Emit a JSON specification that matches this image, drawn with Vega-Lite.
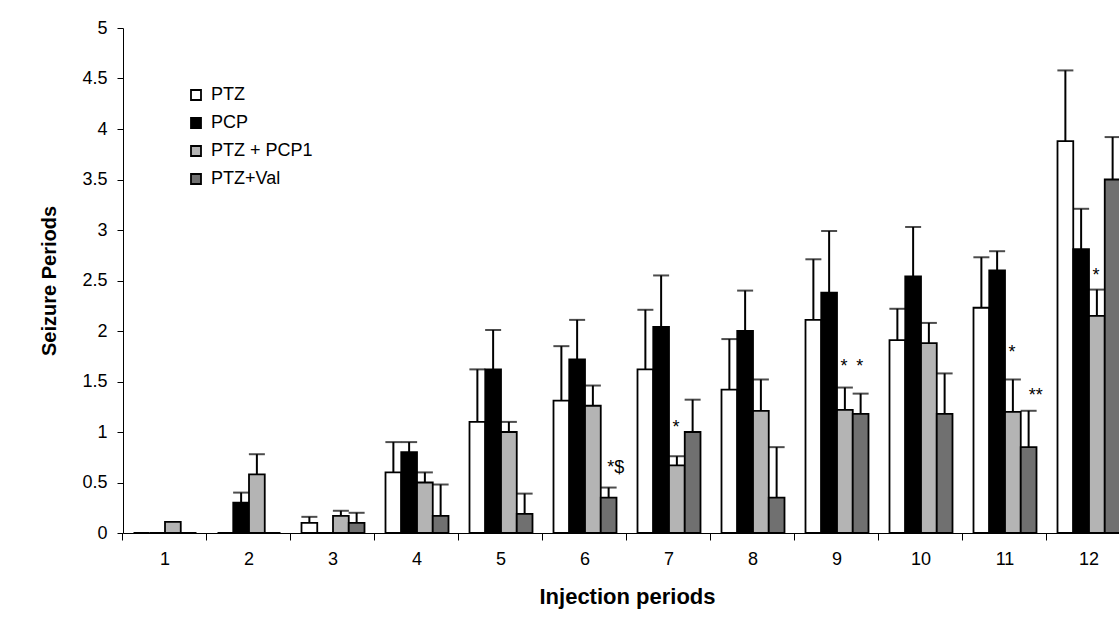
{
  "$schema": "https://vega.github.io/schema/vega-lite/v6.json",
  "width": 1008,
  "height": 505,
  "autosize": "none",
  "padding": {"left": 123, "top": 28, "right": 0, "bottom": 104},
  "background": "white",
  "config": {
    "view": {"stroke": null},
    "font": "Liberation Sans",
    "axis": {"grid": false, "domainColor": "black", "tickColor": "black", "labelColor": "black", "titleColor": "black", "labelFont": "Liberation Sans", "titleFont": "Liberation Sans"}
  },
  "datasets": {
    "bars": [
      {"group": 1, "series": "PTZ", "value": 0, "upper": null},
      {"group": 1, "series": "PCP", "value": 0, "upper": null},
      {"group": 1, "series": "PTZ + PCP1", "value": 0.11, "upper": null},
      {"group": 1, "series": "PTZ+Val", "value": 0, "upper": null},
      {"group": 2, "series": "PTZ", "value": 0, "upper": null},
      {"group": 2, "series": "PCP", "value": 0.3, "upper": 0.4},
      {"group": 2, "series": "PTZ + PCP1", "value": 0.58, "upper": 0.78},
      {"group": 2, "series": "PTZ+Val", "value": 0, "upper": null},
      {"group": 3, "series": "PTZ", "value": 0.1, "upper": 0.16},
      {"group": 3, "series": "PCP", "value": 0, "upper": null},
      {"group": 3, "series": "PTZ + PCP1", "value": 0.17, "upper": 0.22},
      {"group": 3, "series": "PTZ+Val", "value": 0.1, "upper": 0.2},
      {"group": 4, "series": "PTZ", "value": 0.6, "upper": 0.9},
      {"group": 4, "series": "PCP", "value": 0.8, "upper": 0.9},
      {"group": 4, "series": "PTZ + PCP1", "value": 0.5, "upper": 0.6},
      {"group": 4, "series": "PTZ+Val", "value": 0.17, "upper": 0.48},
      {"group": 5, "series": "PTZ", "value": 1.1, "upper": 1.62},
      {"group": 5, "series": "PCP", "value": 1.62, "upper": 2.01},
      {"group": 5, "series": "PTZ + PCP1", "value": 1.0, "upper": 1.1},
      {"group": 5, "series": "PTZ+Val", "value": 0.19, "upper": 0.39},
      {"group": 6, "series": "PTZ", "value": 1.31, "upper": 1.85},
      {"group": 6, "series": "PCP", "value": 1.72, "upper": 2.11},
      {"group": 6, "series": "PTZ + PCP1", "value": 1.26, "upper": 1.46},
      {"group": 6, "series": "PTZ+Val", "value": 0.35, "upper": 0.45},
      {"group": 7, "series": "PTZ", "value": 1.62, "upper": 2.21},
      {"group": 7, "series": "PCP", "value": 2.04, "upper": 2.55},
      {"group": 7, "series": "PTZ + PCP1", "value": 0.67, "upper": 0.76},
      {"group": 7, "series": "PTZ+Val", "value": 1.0, "upper": 1.32},
      {"group": 8, "series": "PTZ", "value": 1.42, "upper": 1.92},
      {"group": 8, "series": "PCP", "value": 2.0, "upper": 2.4},
      {"group": 8, "series": "PTZ + PCP1", "value": 1.21, "upper": 1.52},
      {"group": 8, "series": "PTZ+Val", "value": 0.35, "upper": 0.85},
      {"group": 9, "series": "PTZ", "value": 2.11, "upper": 2.71},
      {"group": 9, "series": "PCP", "value": 2.38, "upper": 2.99},
      {"group": 9, "series": "PTZ + PCP1", "value": 1.22, "upper": 1.44},
      {"group": 9, "series": "PTZ+Val", "value": 1.18, "upper": 1.38},
      {"group": 10, "series": "PTZ", "value": 1.91, "upper": 2.22},
      {"group": 10, "series": "PCP", "value": 2.54, "upper": 3.03},
      {"group": 10, "series": "PTZ + PCP1", "value": 1.88, "upper": 2.08},
      {"group": 10, "series": "PTZ+Val", "value": 1.18, "upper": 1.58},
      {"group": 11, "series": "PTZ", "value": 2.23, "upper": 2.73},
      {"group": 11, "series": "PCP", "value": 2.6, "upper": 2.79},
      {"group": 11, "series": "PTZ + PCP1", "value": 1.2, "upper": 1.52},
      {"group": 11, "series": "PTZ+Val", "value": 0.85, "upper": 1.21},
      {"group": 12, "series": "PTZ", "value": 3.88, "upper": 4.58},
      {"group": 12, "series": "PCP", "value": 2.81, "upper": 3.21},
      {"group": 12, "series": "PTZ + PCP1", "value": 2.15, "upper": 2.41},
      {"group": 12, "series": "PTZ+Val", "value": 3.5, "upper": 3.92}
    ],
    "notes": [
      {"group": 6, "series": "PTZ+Val", "pos": 0.64, "label": "*$", "shift": "right"},
      {"group": 7, "series": "PTZ + PCP1", "pos": 1.04, "label": "*", "shift": "none"},
      {"group": 9, "series": "PTZ + PCP1", "pos": 1.64, "label": "*", "shift": "none"},
      {"group": 9, "series": "PTZ+Val", "pos": 1.64, "label": "*", "shift": "none"},
      {"group": 11, "series": "PTZ + PCP1", "pos": 1.78, "label": "*", "shift": "none"},
      {"group": 11, "series": "PTZ+Val", "pos": 1.36, "label": "**", "shift": "right"},
      {"group": 12, "series": "PTZ + PCP1", "pos": 2.54, "label": "*", "shift": "none"}
    ]
  },
  "layer": [
    {
      "data": {"name": "bars"},
      "mark": {"type": "bar", "stroke": "black", "strokeWidth": 1.8},
      "encoding": {
        "x": {
          "field": "group", "type": "ordinal",
          "scale": {"paddingInner": 0.25, "paddingOuter": 0.125},
          "axis": {
            "title": "Injection periods", "titleFontSize": 22, "titleFontWeight": "bold", "titlePadding": 18,
            "labelFontSize": 18, "labelAngle": 0, "labelPadding": 10, "bandPosition": -0.16667, "tickSize": 7
          }
        },
        "xOffset": {"field": "series", "type": "nominal", "scale": {"domain": ["PTZ", "PCP", "PTZ + PCP1", "PTZ+Val"], "paddingInner": 0, "paddingOuter": 0}},
        "y": {
          "field": "value", "type": "quantitative",
          "scale": {"domain": [0, 5]},
          "axis": {
            "title": "Seizure Periods", "titleFontSize": 20, "titleFontWeight": "bold", "titlePadding": 22,
            "labelFontSize": 18, "labelPadding": 10, "tickSize": 6, "format": "~g",
            "values": [0, 0.5, 1, 1.5, 2, 2.5, 3, 3.5, 4, 4.5, 5]
          }
        },
        "fill": {
          "field": "series", "type": "nominal",
          "scale": {"domain": ["PTZ", "PCP", "PTZ + PCP1", "PTZ+Val"], "range": ["#ffffff", "#000000", "#b4b4b4", "#707070"]},
          "legend": {
            "title": null, "orient": "none", "legendX": 64, "legendY": 58, "padding": 0,
            "symbolType": "square", "symbolSize": 100, "symbolStrokeColor": "black", "symbolStrokeWidth": 1.8,
            "labelFontSize": 18, "labelColor": "black", "labelFont": "Liberation Sans", "rowPadding": 10, "labelOffset": 6
          }
        }
      }
    },
    {
      "data": {"name": "bars"},
      "transform": [{"filter": "datum.upper != null"}],
      "mark": {"type": "rule", "color": "black", "strokeWidth": 2},
      "encoding": {
        "x": {"field": "group", "type": "ordinal"},
        "xOffset": {"field": "series", "type": "nominal", "scale": {"domain": ["PTZ", "PCP", "PTZ + PCP1", "PTZ+Val"]}},
        "y": {"field": "value", "type": "quantitative"},
        "y2": {"field": "upper"}
      }
    },
    {
      "data": {"name": "bars"},
      "transform": [{"filter": "datum.upper != null"}],
      "mark": {"type": "tick", "color": "black", "thickness": 2, "size": 16},
      "encoding": {
        "x": {"field": "group", "type": "ordinal"},
        "xOffset": {"field": "series", "type": "nominal", "scale": {"domain": ["PTZ", "PCP", "PTZ + PCP1", "PTZ+Val"]}},
        "y": {"field": "upper", "type": "quantitative"}
      }
    },
    {
      "data": {"name": "notes"},
      "transform": [{"filter": "datum.shift == 'none'"}],
      "mark": {"type": "text", "fontSize": 18, "color": "black", "baseline": "middle", "align": "center", "dx": -1},
      "encoding": {
        "x": {"field": "group", "type": "ordinal"},
        "xOffset": {"field": "series", "type": "nominal", "scale": {"domain": ["PTZ", "PCP", "PTZ + PCP1", "PTZ+Val"]}},
        "y": {"field": "pos", "type": "quantitative"},
        "text": {"field": "label"}
      }
    },
    {
      "data": {"name": "notes"},
      "transform": [{"filter": "datum.shift == 'right'"}],
      "mark": {"type": "text", "fontSize": 18, "color": "black", "baseline": "middle", "align": "center", "dx": 7},
      "encoding": {
        "x": {"field": "group", "type": "ordinal"},
        "xOffset": {"field": "series", "type": "nominal", "scale": {"domain": ["PTZ", "PCP", "PTZ + PCP1", "PTZ+Val"]}},
        "y": {"field": "pos", "type": "quantitative"},
        "text": {"field": "label"}
      }
    }
  ]
}
